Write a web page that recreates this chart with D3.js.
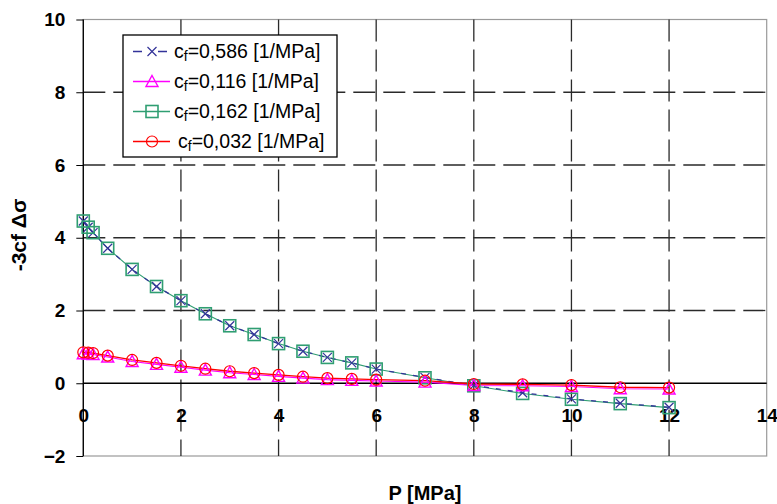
<!DOCTYPE html>
<html><head><meta charset="utf-8">
<script src="https://cdn.jsdelivr.net/npm/d3@7"></script>
<style>
body{margin:0;background:#fff;}
text{font-family:"Liberation Sans",Arial,sans-serif;}
</style></head>
<body><svg id="c" width="777" height="504"></svg>
<script>
const pValues = [0,0.1,0.2,0.5,1,1.5,2,2.5,3,3.5,4,4.5,5,5.5,6,7,8,9,10,11,12];
const s586 = [4.46,4.29,4.14,3.71,3.13,2.66,2.27,1.91,1.58,1.34,1.09,0.88,0.71,0.56,0.39,0.16,-0.06,-0.26,-0.43,-0.55,-0.66];
const s116 = [0.81,0.80,0.79,0.72,0.60,0.52,0.44,0.36,0.29,0.24,0.19,0.14,0.10,0.08,0.06,0.03,-0.06,-0.07,-0.09,-0.15,-0.16];
const s162 = [4.46,4.29,4.14,3.71,3.13,2.66,2.27,1.91,1.58,1.34,1.09,0.88,0.71,0.56,0.39,0.15,-0.07,-0.28,-0.44,-0.56,-0.67];
const s032 = [0.85,0.84,0.83,0.76,0.64,0.56,0.48,0.40,0.33,0.28,0.23,0.18,0.14,0.12,0.10,0.07,-0.02,-0.03,-0.05,-0.11,-0.12];
const seriesNames = ["0,586","0,116","0,162","0,032"];
const xTicks = [0,2,4,6,8,10,12,14];
const yTicks = [-2,0,2,4,6,8,10];

const svg = d3.select("#c");
const L=83.3, R=766.7, T=19.5, B=456;
const x = d3.scaleLinear().domain([0,14]).range([L,R]);
const y = d3.scaleLinear().domain([-2,10]).range([B,T]);

svg.append("rect").attr("x",L).attr("y",T).attr("width",R-L).attr("height",B-T)
  .attr("fill","none").attr("stroke","#9a9a9a").attr("stroke-width",1.2);

const grid = svg.append("g");
grid.selectAll("line.v").data(xTicks.filter(d=>d>0&&d<14)).join("line")
  .attr("x1",d=>x(d)).attr("x2",d=>x(d)).attr("y1",T).attr("y2",B)
  .attr("stroke","#2a2a2a").attr("stroke-width",1.3).attr("stroke-dasharray","22,8");
grid.selectAll("line.h").data(yTicks.filter(d=>d>0&&d<10)).join("line")
  .attr("x1",L).attr("x2",R).attr("y1",d=>y(d)).attr("y2",d=>y(d))
  .attr("stroke","#2a2a2a").attr("stroke-width",1.3).attr("stroke-dasharray","22,8");

svg.append("line").attr("x1",L).attr("x2",R).attr("y1",y(0)).attr("y2",y(0))
  .attr("stroke","#000").attr("stroke-width",1.3);

const ya = svg.append("g").attr("transform",`translate(${L},0)`)
  .call(d3.axisLeft(y).tickValues(yTicks).tickSize(7).tickPadding(11).tickFormat(d3.format("d")));
ya.select(".domain").attr("stroke","#000").attr("stroke-width",1.3).attr("d",`M0,${T}V${B}`);
ya.selectAll(".tick line").attr("stroke","#000");
ya.selectAll("text").attr("font-size",19).attr("font-weight","bold").attr("fill","#000")
  .attr("font-family","Liberation Sans, Arial, sans-serif");

const xa = svg.append("g").attr("transform",`translate(0,${y(0)})`)
  .call(d3.axisBottom(x).tickValues(xTicks).tickSize(0).tickPadding(25).tickFormat(d3.format("d")));
xa.select(".domain").remove();
xa.selectAll("text").attr("font-size",19).attr("font-weight","bold").attr("fill","#000")
  .attr("font-family","Liberation Sans, Arial, sans-serif");

svg.append("text").attr("transform",`translate(26,235) rotate(-90)`).attr("text-anchor","middle")
  .attr("font-size",21).attr("font-weight","bold").text("-3cf Δσ");
svg.append("text").attr("x",425).attr("y",500).attr("text-anchor","middle")
  .attr("font-size",20).attr("font-weight","bold").text("P [MPa]");

const colors = {blue:"#333399",mag:"#ff00ff",green:"#2f9e72",red:"#ff0000"};
const mk = vals => pValues.map((p,i)=>[p,vals[i]]);
const line = d3.line().x(d=>x(d[0])).y(d=>y(d[1]));
const plot = svg.append("g");

function drawMarker(g, type, cx, cy){
  if(type==="square") g.append("rect").attr("x",cx-6).attr("y",cy-6).attr("width",12).attr("height",12)
      .attr("fill","none").attr("stroke",colors.green).attr("stroke-width",1.6);
  if(type==="x") g.append("path").attr("d",`M${cx-4.5},${cy-4.5}L${cx+4.5},${cy+4.5}M${cx-4.5},${cy+4.5}L${cx+4.5},${cy-4.5}`)
      .attr("stroke",colors.blue).attr("stroke-width",1.2).attr("fill","none");
  if(type==="tri") g.append("path").attr("d",`M${cx},${cy-6}L${cx+6},${cy+5}L${cx-6},${cy+5}Z`)
      .attr("fill","none").attr("stroke",colors.mag).attr("stroke-width",1.4);
  if(type==="circle") g.append("circle").attr("cx",cx).attr("cy",cy).attr("r",5.5)
      .attr("fill","none").attr("stroke",colors.red).attr("stroke-width",1.2);
}

plot.append("path").datum(mk(s162)).attr("d",line).attr("fill","none").attr("stroke",colors.green).attr("stroke-width",1.1);
plot.append("path").datum(mk(s586)).attr("d",line).attr("fill","none").attr("stroke",colors.blue).attr("stroke-width",1.3).attr("stroke-dasharray","5,7");
plot.append("path").datum(mk(s116)).attr("d",line).attr("fill","none").attr("stroke",colors.mag).attr("stroke-width",1.1);
plot.append("path").datum(mk(s032)).attr("d",line).attr("fill","none").attr("stroke",colors.red).attr("stroke-width",1.3);

mk(s586).forEach(d=>drawMarker(plot,"x",x(d[0]),y(d[1])));
mk(s162).forEach(d=>drawMarker(plot,"square",x(d[0]),y(d[1])));
mk(s116).forEach(d=>drawMarker(plot,"tri",x(d[0]),y(d[1])));
mk(s032).forEach(d=>drawMarker(plot,"circle",x(d[0]),y(d[1])));

const lg = svg.append("g");
lg.append("rect").attr("x",123).attr("y",35).attr("width",214).attr("height",122)
  .attr("fill","#fff").attr("stroke","#000").attr("stroke-width",1.3);
const legendItems = [
  {name:seriesNames[0], color:colors.blue, marker:"x", dash:true, tx:174},
  {name:seriesNames[1], color:colors.mag, marker:"tri", dash:false, tx:174},
  {name:seriesNames[2], color:colors.green, marker:"square", dash:false, tx:174},
  {name:seriesNames[3], color:colors.red, marker:"circle", dash:false, tx:178}
];
legendItems.forEach((it,i)=>{
  const cy = 51.5 + i*30;
  const ln = lg.append("line").attr("x1",133).attr("x2",170).attr("y1",cy).attr("y2",cy)
    .attr("stroke",it.color).attr("stroke-width",1.3);
  if(it.dash) ln.attr("stroke-dasharray","9,16");
  drawMarker(lg,it.marker,152,cy);
  const t = lg.append("text").attr("x",it.tx).attr("y",cy+6.5).attr("font-size",19.5).attr("fill","#000");
  t.append("tspan").text("c");
  t.append("tspan").attr("font-size",14).attr("dy",3).text("f");
  t.append("tspan").attr("dy",-3).text("="+it.name+" [1/MPa]");
});
</script></body></html>
